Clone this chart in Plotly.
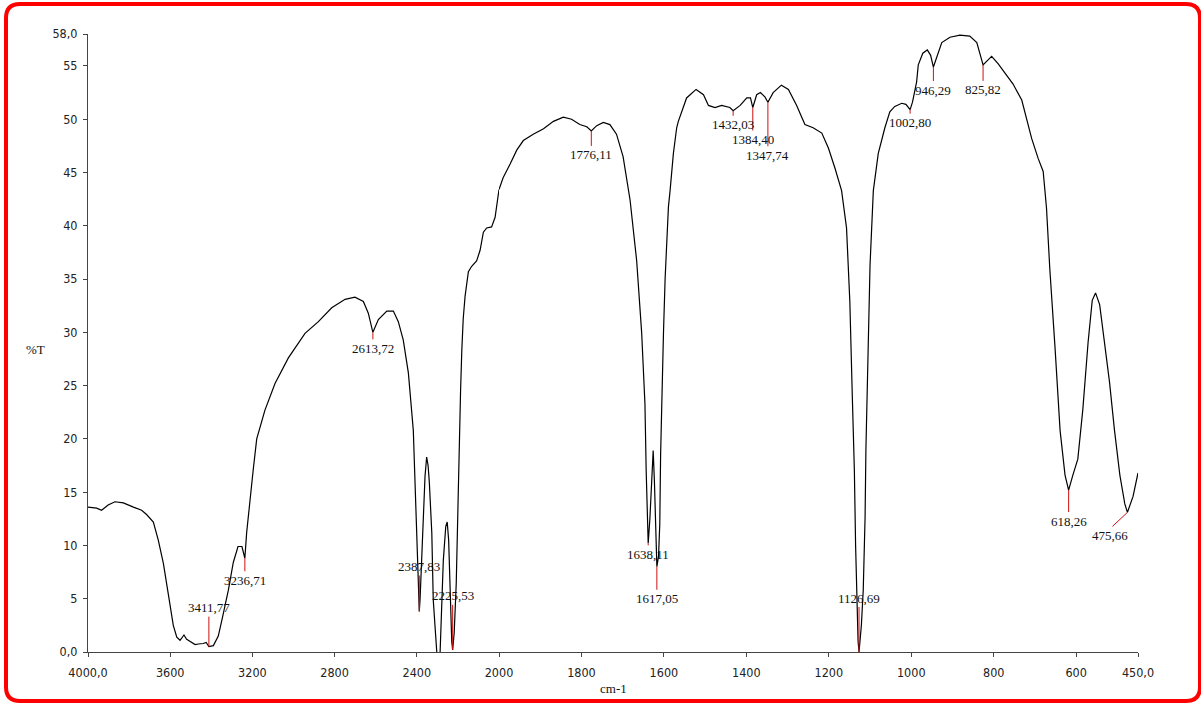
import plotly.graph_objects as go

# ---- spectrum data: wavenumber (cm-1) and transmittance (%T) ----
# high-wavenumber part (4000 -> 2000 cm-1, compressed scale)
wn_hi = [4000, 3958, 3934, 3902, 3869, 3828, 3779, 3739, 3715, 3700, 3682, 3658,
         3633, 3609, 3585, 3568, 3552, 3533, 3520, 3512, 3479, 3463, 3439, 3425,
         3411.77, 3390, 3366, 3345, 3317, 3293, 3270, 3251, 3236.71, 3228, 3212,
         3196, 3179, 3139, 3090, 3025, 2944, 2879, 2814, 2749, 2701, 2660, 2636,
         2613.72, 2587, 2546, 2514, 2490, 2466, 2441, 2417, 2405, 2396, 2391,
         2387.83, 2384, 2376, 2368, 2360, 2352, 2345, 2339, 2327, 2320, 2310, 2300,
         2288, 2280, 2271, 2259, 2252, 2245, 2237, 2230, 2225.53, 2218, 2208, 2200,
         2194, 2187, 2181, 2174, 2165, 2149, 2133, 2109, 2092, 2076, 2060, 2036,
         2019, 2003, 2000]
t_hi = [13.6, 13.5, 13.3, 13.8, 14.1, 14.0, 13.6, 13.3, 12.9, 12.6, 12.2, 10.5,
        8.3, 5.4, 2.5, 1.4, 1.1, 1.6, 1.2, 1.1, 0.7, 0.75, 0.8, 0.9,
        0.5, 0.6, 1.5, 3.3, 5.8, 8.4, 9.9, 9.9, 8.8, 11.2, 14.3,
        17.1, 20.0, 22.7, 25.2, 27.6, 29.9, 31.0, 32.3, 33.1, 33.3, 32.9, 31.8,
        30.0, 31.2, 32.0, 32.0, 31.0, 29.3, 26.2, 20.8, 13.0, 9.0, 5.5,
        3.8, 5.0, 8.5, 12.5, 16.5, 18.3, 17.5, 15.9, 11.2, 4.9, 1.5, -0.8,
        -0.8, 3.3, 8.6, 11.8, 12.2, 10.5, 4.5, 1.0, 0.2, 1.8, 6.5, 14.3,
        19.0, 24.5, 28.3, 31.3, 33.4, 35.7, 36.2, 36.7, 37.7, 39.4, 39.8, 39.9,
        40.8, 43.1, 43.4]

# low-wavenumber part (2000 -> 450 cm-1, expanded scale)
wn_lo = [2000, 1990, 1973, 1957, 1941, 1917, 1892, 1868, 1844, 1824, 1804, 1787,
         1776.11, 1763, 1747, 1731, 1715, 1699, 1682, 1666, 1654, 1646, 1643, 1640,
         1638.11, 1634, 1630, 1626, 1623, 1620, 1617.05, 1613, 1610, 1608, 1605,
         1601, 1597, 1589, 1585, 1577, 1569, 1565, 1545, 1522, 1504, 1492, 1476,
         1460, 1440, 1432.03, 1415, 1399, 1390, 1384.40, 1375, 1366, 1355, 1347.74,
         1335, 1315, 1298, 1278, 1258, 1238, 1217, 1201, 1185, 1169, 1157, 1149,
         1143, 1138, 1135, 1132, 1129, 1126.69, 1121, 1116.5, 1112, 1110, 1106,
         1100, 1092, 1080, 1064, 1052, 1040, 1023, 1013, 1002.80, 997, 987, 983,
         972, 961, 953, 946.29, 937, 926, 906, 882, 858, 841, 825.82, 813, 805,
         789, 769, 753, 732, 720, 708, 692, 680, 672, 664, 651, 639, 627, 618.26,
         608, 596, 584, 571, 561, 553, 543, 531, 519, 507, 494, 482, 475.66, 462, 450]
t_lo = [43.4, 44.5, 45.8, 47.1, 48.0, 48.6, 49.1, 49.8, 50.2, 50.0, 49.5, 49.3,
        48.9, 49.4, 49.7, 49.5, 48.6, 46.5, 42.4, 36.7, 30.0, 23.3, 17.0, 12.5,
        10.2, 12.5, 16.0, 18.9, 16.0, 11.5, 8.0, 9.0, 12.0, 18.5, 25.0,
        30.0, 35.1, 41.8, 43.3, 46.8, 49.2, 49.8, 52.0, 52.8, 52.3, 51.3, 51.1,
        51.3, 51.1, 50.8, 51.3, 52.0, 52.0, 51.1, 52.3, 52.5, 52.1, 51.6,
        52.5, 53.2, 52.8, 51.3, 49.5, 49.2, 48.7, 47.3, 45.4, 43.3, 39.8, 32.9,
        24.0, 17.0, 10.0, 4.0, 1.0, 0.0, 2.5, 5.8, 12.7, 19.0, 27.0,
        36.3, 43.3, 46.8, 49.2, 50.7, 51.2, 51.5, 51.4, 50.9, 51.6, 53.5, 55.1,
        56.2, 56.5, 56.0, 54.9, 56.0, 57.2, 57.7, 57.9, 57.8, 57.2, 55.1, 55.6, 55.9,
        55.2, 54.1, 53.3, 51.8, 50.1, 48.2, 46.3, 45.1, 41.7, 36.0, 28.4, 20.8, 16.6, 15.2,
        16.6, 18.1, 22.7, 29.1, 33.0, 33.7, 32.6, 29.1, 25.3, 20.8, 16.6, 13.9, 13.1, 14.6, 16.8]

# picked peaks (cm-1)
peak_wn = [3411.77, 3236.71, 2613.72, 2387.83, 2225.53, 1776.11, 1638.11, 1617.05,
           1432.03, 1384.40, 1347.74, 1126.69, 1002.80, 946.29, 825.82, 618.26, 475.66]

# axis ticks
y_ticks = [0, 5, 10, 15, 20, 25, 30, 35, 40, 45, 50, 55, 58]
y_tick_text = ["0,0", "5", "10", "15", "20", "25", "30", "35", "40", "45", "50", "55", "58,0"]
x_hi_ticks = [4000, 3600, 3200, 2800, 2400]
x_hi_text = ["4000,0", "3600", "3200", "2800", "2400"]
x_lo_ticks = [2000, 1800, 1600, 1400, 1200, 1000, 800, 600, 450]
x_lo_text = ["2000", "1800", "1600", "1400", "1200", "1000", "800", "600", "450,0"]

# ---- peak-label placement (leader length in px, label side, extra offsets) ----
leader_len = [30, 13, 7, 36, 45, 15, 2, 23, 5, 23, 44, 45, 4, 14, 16, 22, 14]
label_up = [True, False, False, True, True, False, False, False,
            False, False, False, True, False, False, False, False, False]
leader_dx = [0] * 16 + [-15]
label_dx = [0] * 16 + [-17]

W, H = 1201, 704
ML, MR, MT, MB = 88, 63, 34, 52
PW, PH = W - ML - MR, H - MT - MB
BREAK = 2000
split = 411 / PW  # 2000 cm-1 sits where the scale doubles

TICK_FONT = dict(family="DejaVu Sans Condensed, Liberation Sans, sans-serif", size=12.5, color="#222222")
SERIF = dict(family="Liberation Serif, Times New Roman, serif", size=13, color="#111111")
AXIS_COL = "#444444"

fig = go.Figure()
fig.add_trace(go.Scatter(x=wn_hi, y=t_hi, mode="lines", xaxis="x", yaxis="y",
                         line=dict(color="black", width=1.2), hoverinfo="skip"))
fig.add_trace(go.Scatter(x=wn_lo, y=t_lo, mode="lines", xaxis="x2", yaxis="y",
                         line=dict(color="black", width=1.2), hoverinfo="skip"))

lookup = dict(zip(wn_hi + wn_lo, t_hi + t_lo))
shapes = []
annotations = []
for p, L, up, ldx, tdx in zip(peak_wn, leader_len, label_up, leader_dx, label_dx):
    xr = "x" if p > BREAK else "x2"
    t = lookup[p]
    sign = 1 if up else -1
    shapes.append(dict(type="line", xref=xr, yref="y",
                       xsizemode="pixel", xanchor=p, x0=0, x1=ldx,
                       ysizemode="pixel", yanchor=t, y0=0, y1=sign * L,
                       line=dict(color="#cc1111", width=1), layer="above"))
    annotations.append(dict(x=p, y=t, xref=xr, yref="y", text=f"{p:.2f}".replace(".", ","),
                            showarrow=False, xanchor="center", yanchor="middle",
                            xshift=tdx, yshift=sign * (L + 9), font=SERIF))


# page pixel -> paper coordinate helpers
def px_x(px):
    return (px - ML) / PW


def px_y(py):
    return (H - MB - py) / PH


# axis titles
annotations.append(dict(x=0.5, y=px_y(688), xref="paper", yref="paper", text="cm-1",
                        showarrow=False, xanchor="center", yanchor="middle", font=SERIF))
annotations.append(dict(x=px_x(35), y=px_y(350), xref="paper", yref="paper",
                        text="%T", showarrow=False, xanchor="center", yanchor="middle", font=SERIF))

# rounded red frame around the page
left, right, top, bottom, r = 6, 1200, 4, 701, 14
path = (f"M {px_x(left + r)} {px_y(top)} L {px_x(right - r)} {px_y(top)} "
        f"Q {px_x(right)} {px_y(top)} {px_x(right)} {px_y(top + r)} "
        f"L {px_x(right)} {px_y(bottom - r)} "
        f"Q {px_x(right)} {px_y(bottom)} {px_x(right - r)} {px_y(bottom)} "
        f"L {px_x(left + r)} {px_y(bottom)} "
        f"Q {px_x(left)} {px_y(bottom)} {px_x(left)} {px_y(bottom - r)} "
        f"L {px_x(left)} {px_y(top + r)} "
        f"Q {px_x(left)} {px_y(top)} {px_x(left + r)} {px_y(top)} Z")
shapes.append(dict(type="path", xref="paper", yref="paper", path=path,
                   line=dict(color="#ff0000", width=4), layer="above"))

common_x = dict(ticks="outside", ticklen=4, tickcolor=AXIS_COL, showline=True,
                linecolor=AXIS_COL, linewidth=1, showgrid=False, zeroline=False,
                tickfont=TICK_FONT, anchor="y", tickmode="array", ticklabelstandoff=5)

fig.update_layout(
    width=W, height=H,
    margin=dict(l=ML, r=MR, t=MT, b=MB),
    paper_bgcolor="white", plot_bgcolor="white",
    showlegend=False,
    xaxis=dict(domain=[0, split], range=[4000, BREAK], tickvals=x_hi_ticks,
               ticktext=x_hi_text, **common_x),
    xaxis2=dict(domain=[split, 1], range=[BREAK, 450], tickvals=x_lo_ticks,
                ticktext=x_lo_text, **common_x),
    yaxis=dict(range=[0, 58], anchor="x", tickmode="array", tickvals=y_ticks,
               ticktext=y_tick_text, ticks="outside", ticklen=4, tickcolor=AXIS_COL,
               showline=True, linecolor=AXIS_COL, linewidth=1, showgrid=False,
               zeroline=False, tickfont=TICK_FONT, ticklabelstandoff=3),
    shapes=shapes,
    annotations=annotations,
)

fig.write_html("out.html")
